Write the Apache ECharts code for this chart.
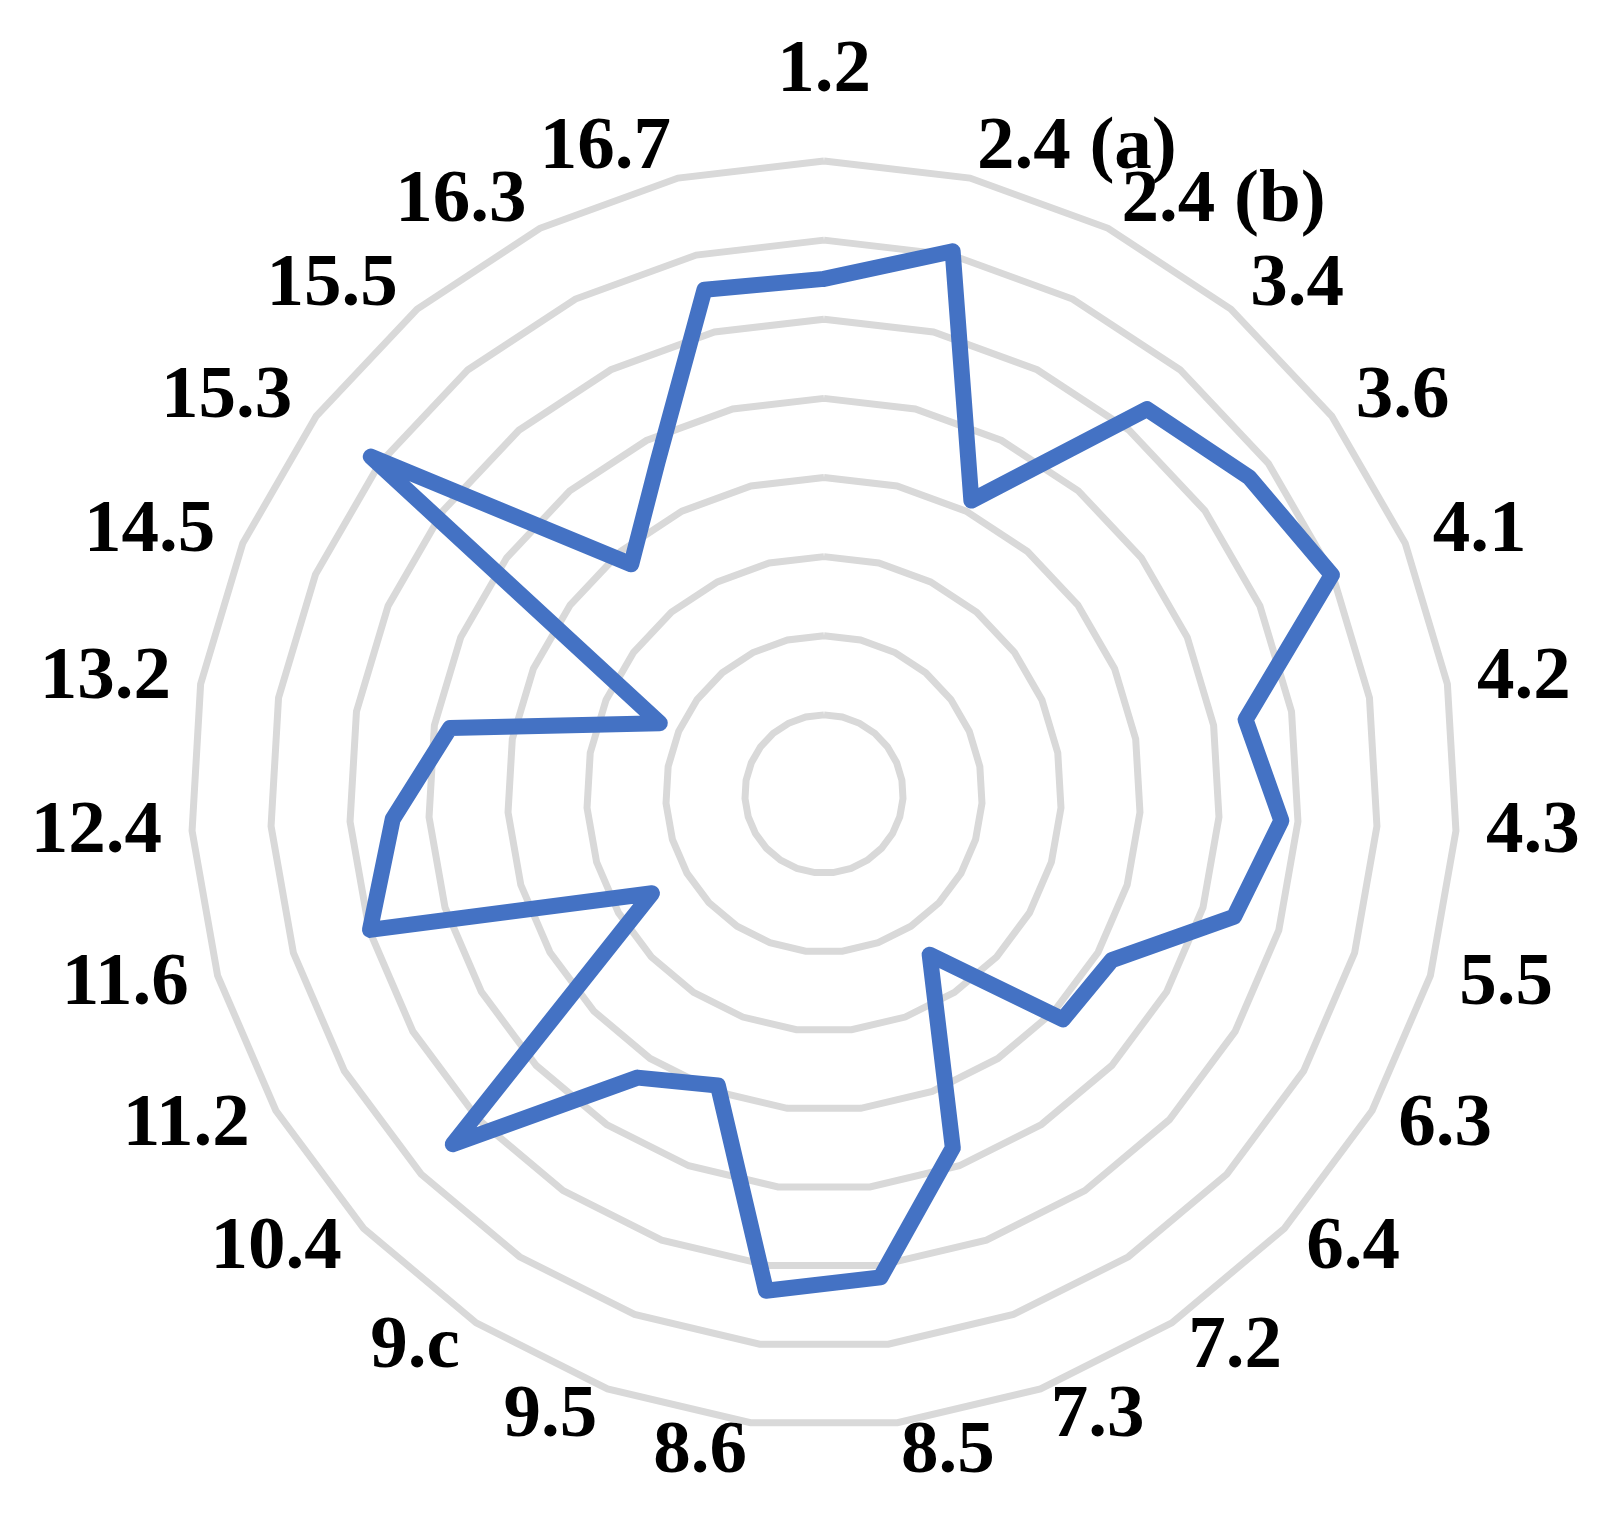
<!DOCTYPE html>
<html>
<head>
<meta charset="utf-8">
<script src="https://cdn.jsdelivr.net/npm/echarts@6/dist/echarts.min.js"></script>
<style>
  html, body { margin: 0; padding: 0; background: #ffffff; }
  #chart { width: 1611px; height: 1528px; }
</style>
</head>
<body>
<div id="chart"></div>
<script>
// Categories in clockwise order starting from the top
const categories = ['1.2', '2.4 (a)', '2.4 (b)', '3.4', '3.6', '4.1', '4.2', '4.3', '5.5', '6.3', '6.4', '7.2', '7.3', '8.5', '8.6', '9.5', '9.c', '10.4', '11.2', '11.6', '12.4', '13.2', '14.5', '15.3', '15.5', '16.3', '16.7'];
const values = [6.51, 7.05, 4.15, 6.35, 6.70, 6.99, 5.41, 5.79, 5.41, 4.2, 4.15, 2.43, 4.76, 6.15, 6.32, 3.92, 4.29, 6.45, 2.51, 5.99, 5.46, 4.80, 2.26, 7.14, 3.79, 4.69, 6.55];
const axisMax = 8;
const ringCount = 8;

// ECharts lays radar indicators out counter-clockwise; reverse (keeping the first) to go clockwise
const order = [0].concat(categories.map((_, i) => i).slice(1).reverse());
const indicators = order.map(i => ({ name: categories[i], min: 0, max: axisMax }));
const seriesValues = order.map(i => values[i]);

const chart = echarts.init(document.getElementById('chart'), null, { renderer: 'canvas' });
const fontFamily = '"Liberation Serif", "DejaVu Serif", serif';
chart.setOption({
  backgroundColor: '#ffffff',
  animation: false,
  radar: {
    center: [824, 794],
    radius: 633,
    startAngle: 90,
    shape: 'polygon',
    splitNumber: ringCount,
    indicator: indicators,
    nameGap: 30,
    axisName: {
      color: '#000000',
      fontFamily: fontFamily,
      fontWeight: 'bold',
      fontSize: 75,
      formatter: function (name) {
        return name === categories[0] ? '{top|' + name + '}' : name;
      },
      rich: {
        top: {
          color: '#000000',
          fontFamily: fontFamily,
          fontWeight: 'bold',
          fontSize: 75,
          padding: [0, 0, 22, 0]
        }
      }
    },
    axisLine: { show: false },
    axisTick: { show: false },
    axisLabel: { show: false },
    splitArea: { show: false },
    splitLine: { show: true, lineStyle: { color: '#d9d9d9', width: 7 } }
  },
  series: [{
    type: 'radar',
    symbol: 'none',
    lineStyle: { color: '#4472C4', width: 16, join: 'round', cap: 'round' },
    itemStyle: { color: '#4472C4' },
    data: [{ value: seriesValues }]
  }]
});
</script>
</body>
</html>
